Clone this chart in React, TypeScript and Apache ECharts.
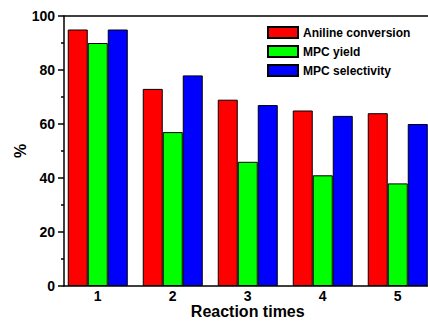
import React, { useEffect, useRef } from "react";
import * as echarts from "echarts";

const categories = [1, 2, 3, 4, 5];
const anilineConversion = [95, 73, 69, 65, 64];
const mpcYield = [90, 57, 46, 41, 38];
const mpcSelectivity = [95, 78, 67, 63, 60];
const yTicks = [0, 20, 40, 60, 80, 100];

const FONT = "'Liberation Sans', Arial, sans-serif";

export default function App() {
  const ref = useRef<HTMLDivElement>(null);
  useEffect(() => {
    document.body.style.margin = "0";
    if (!ref.current) return;
    const chart = echarts.init(ref.current, null, { renderer: "svg" });
    const mk = (name: string, color: string, vals: number[]) => ({
      name,
      type: "bar",
      data: categories.map((c, i) => [c, vals[i]]),
      barWidth: 20,
      barGap: "0%",
      itemStyle: { color, borderColor: "#000", borderWidth: 1 },
      z: 3,
    });
    chart.setOption({
      animation: false,
      backgroundColor: "#fff",
      textStyle: { fontFamily: FONT },
      grid: {
        left: 64,
        top: 16,
        width: 367.5,
        height: 270,
        containLabel: false,
        outerBoundsMode: "none",
      },
      legend: {
        orient: "vertical",
        left: 267,
        top: 26,
        padding: 0,
        itemWidth: 30,
        itemHeight: 11,
        itemGap: 6,
        icon: "rect",
        textStyle: { fontFamily: FONT, fontWeight: "bold", fontSize: 12, color: "#000" },
        data: ["Aniline conversion", "MPC yield", "MPC selectivity"],
      },
      xAxis: [
        {
          type: "value",
          min: 0.55,
          max: 5.45,
          splitLine: { show: false },
          axisLine: { show: true, lineStyle: { color: "#000", width: 1.5 } },
          axisTick: { show: false },
          axisLabel: {
            customValues: categories,
            formatter: (v: number) => String(v),
            color: "#000",
            fontWeight: "bold",
            fontSize: 14,
            fontFamily: FONT,
            margin: 3,
          },
          name: "Reaction times",
          nameLocation: "middle",
          nameGap: 17,
          nameMoveOverlap: false,
          nameTextStyle: { color: "#000", fontWeight: "bold", fontSize: 16, fontFamily: FONT },
        },
        {
          type: "value",
          position: "top",
          min: 0.55,
          max: 5.45,
          splitLine: { show: false },
          axisLine: { show: true, onZero: false, lineStyle: { color: "#000", width: 1.5 } },
          axisTick: { show: false },
          axisLabel: { show: false },
        },
      ],
      yAxis: [
        {
          type: "value",
          min: 0,
          max: 100,
          interval: 20,
          splitLine: { show: false },
          axisLine: { show: true, lineStyle: { color: "#000", width: 1.5 } },
          axisTick: { show: true, length: 6, lineStyle: { color: "#000", width: 1.5 } },
          minorTick: { show: true, splitNumber: 2, length: 3, lineStyle: { color: "#000", width: 1.5 } },
          axisLabel: {
            customValues: yTicks,
            color: "#000",
            fontWeight: "bold",
            fontSize: 14,
            fontFamily: FONT,
            margin: 9,
          },
          name: "%",
          nameLocation: "middle",
          nameGap: 36,
          nameMoveOverlap: false,
          nameTextStyle: { color: "#000", fontWeight: "bold", fontSize: 16, fontFamily: FONT },
        },
        {
          type: "value",
          position: "right",
          min: 0,
          max: 100,
          splitLine: { show: false },
          axisLine: { show: true, onZero: false, lineStyle: { color: "#000", width: 1.5 } },
          axisTick: { show: false },
          axisLabel: { show: false },
        },
      ],
      series: [
        mk("Aniline conversion", "#ff0000", anilineConversion),
        mk("MPC yield", "#00ff00", mpcYield),
        mk("MPC selectivity", "#0000ff", mpcSelectivity),
      ],
    });
    return () => chart.dispose();
  }, []);
  return <div ref={ref} style={{ width: 428, height: 321 }} />;
}
